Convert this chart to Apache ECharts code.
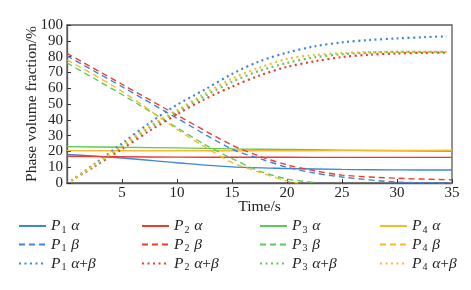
<!DOCTYPE html>
<html>
<head>
<meta charset="utf-8">
<script src="https://cdn.jsdelivr.net/npm/echarts@6/dist/echarts.min.js"></script>
<style>
  html, body { margin: 0; padding: 0; background: #fff; }
  #chart { width: 471px; height: 290px; }
</style>
</head>
<body>
<div id="chart"></div>
<script>
// time axis (s) and phase fractions (%)
const tAlpha = [0, 5, 10, 15, 20, 25, 30, 35]
const p1Alpha = [18, 15.8, 12.8, 10.2, 9.2, 8.6, 8.3, 8.2]
const p2Alpha = [16.9, 16.6, 16.4, 16.3, 16.3, 16.2, 16.2, 16.2]
const p3Alpha = [23, 22.6, 22.2, 21.6, 21.2, 20.8, 20.4, 20.0]
const p4Alpha = [20.5, 20.4, 20.4, 20.4, 20.4, 20.5, 20.6, 20.7]

const tBeta12 = [0, 5, 10, 15, 17.5, 20, 22.5, 25, 30, 35]
const p1Beta = [80.4, 61, 41, 21.5, 15.5, 10, 6.3, 3.8, 0.6, 0]
const p2Beta = [82, 62.5, 43, 24, 17, 11.5, 7.8, 5, 3, 2]
const tBeta3 = [0, 5, 10, 12.5, 15, 17.5, 20, 21, 22.5]
const p3Beta = [76, 56, 35, 24.5, 15.5, 7.5, 2.5, 1.5, 0.3]
const tBeta4 = [0, 5, 10, 12.5, 15, 17.5, 20, 21]
const p4Beta = [78, 58, 34, 23, 13, 6.8, 1.2, 0]

const tSum = [0.4, 2.5, 5, 7.5, 10, 12.5, 15, 17.5, 20, 22.5, 25, 27.5, 30, 32.5, 34.5]
const p1Sum = [1.5, 12, 25, 38, 49.5, 59, 69, 77, 82.5, 86.5, 89, 90.5, 91.5, 92.3, 92.8]
const p2Sum = [1.5, 10.5, 21.5, 33, 43.5, 53, 61, 68, 73.5, 77, 79.7, 81.2, 82, 82.4, 82.5]
const p3Sum = [1.5, 11, 23, 35, 45, 55, 64, 71, 76, 79.5, 81.5, 82.5, 83, 83, 83]
const p4Sum = [1.5, 11.5, 23.5, 36, 46, 56.5, 66, 73, 78.5, 81, 82.2, 82.8, 83, 83, 83]

const xTicks = [0, 5, 10, 15, 20, 25, 30, 35]
const yTicks = [0, 10, 20, 30, 40, 50, 60, 70, 80, 90, 100]

const colors = ['#3f86d6', '#ee3b2f', '#5ec95a', '#f6bb2c']
const serif = '"Liberation Serif", "Times New Roman", serif'

const pairs = (xs, ys) => xs.map((x, i) => [x, ys[i]])

// rows of the legend: α, β, α+β
const rows = [
  { suffix: 'α', type: 'solid', width: 1.4, sets: [[tAlpha, p1Alpha], [tAlpha, p2Alpha], [tAlpha, p3Alpha], [tAlpha, p4Alpha]] },
  { suffix: 'β', type: [6, 4], width: 1.4, sets: [[tBeta12, p1Beta], [tBeta12, p2Beta], [tBeta3, p3Beta], [tBeta4, p4Beta]] },
  { suffix: 'α+β', type: [2, 3.5], width: 2.2, sets: [[tSum, p1Sum], [tSum, p2Sum], [tSum, p3Sum], [tSum, p4Sum]] }
]

const series = []
const legends = []
const colLeft = [18, 141, 259, 379]
const rowTop = [218, 236.5, 255.5]

rows.forEach((row, r) => {
  row.sets.forEach(([xs, ys], c) => {
    const name = 'P' + (c + 1) + ' ' + row.suffix
    series.push({
      name,
      type: 'line',
      smooth: 0.3,
      symbol: 'none',
      color: colors[c],
      lineStyle: { color: colors[c], width: row.width, type: row.type, cap: 'butt' },
      data: pairs(xs, ys)
    })
    legends.push({
      data: [name],
      left: colLeft[c],
      top: rowTop[r],
      padding: 0,
      itemWidth: 27,
      itemHeight: 14,
      itemStyle: { opacity: 0 },
      lineStyle: { opacity: 1 },
      formatter: n => {
        const num = n.charAt(1)
        const rest = n.slice(3).split('+')
        const tail = rest.length > 1 ? `{g|${rest[0]}}{n|+}{g|${rest[1]}}` : `{g|${rest[0]}}`
        return `{p|P}{s|${num}} ${tail}`
      },
      textStyle: {
        fontFamily: serif,
        fontSize: 15,
        color: '#222',
        rich: {
          p: { fontFamily: serif, fontStyle: 'italic', fontSize: 15.5, color: '#222' },
          s: { fontFamily: serif, fontSize: 10, color: '#222', padding: [8, 1, 0, 1] },
          g: { fontFamily: serif, fontStyle: 'italic', fontSize: 15.5, color: '#222' },
          n: { fontFamily: serif, fontSize: 15.5, color: '#222' }
        }
      }
    })
  })
})

const chart = echarts.init(document.getElementById('chart'))

chart.setOption({
  animation: false,
  textStyle: { fontFamily: serif },
  grid: {
    left: 67, right: 19, top: 25, bottom: 107,
    show: true, borderColor: '#5a5a5a', borderWidth: 1.3
  },
  legend: legends,
  xAxis: {
    type: 'value',
    min: xTicks[0],
    max: xTicks[xTicks.length - 1],
    interval: 5,
    name: 'Time/s',
    nameLocation: 'middle',
    nameGap: 16,
    nameMoveOverlap: false,
    nameTextStyle: { fontFamily: serif, fontSize: 15.5, color: '#222' },
    axisLine: { lineStyle: { color: '#5a5a5a', width: 1.3 } },
    axisTick: { inside: true, length: 4, lineStyle: { color: '#333' } },
    axisLabel: { showMinLabel: false, margin: 3, fontFamily: serif, fontSize: 15, color: '#222' },
    splitLine: { show: false }
  },
  yAxis: {
    type: 'value',
    min: yTicks[0],
    max: yTicks[yTicks.length - 1],
    interval: 10,
    name: 'Phase volume fraction/%',
    nameLocation: 'middle',
    nameGap: 27,
    nameMoveOverlap: false,
    nameTextStyle: { fontFamily: serif, fontSize: 15.5, color: '#222' },
    axisLine: { lineStyle: { color: '#5a5a5a', width: 1.3 } },
    axisTick: { inside: true, length: 4, lineStyle: { color: '#333' } },
    axisLabel: { margin: 4, fontFamily: serif, fontSize: 15, color: '#222' },
    splitLine: { show: false }
  },
  series
})

window.addEventListener('resize', () => chart.resize())
</script>
</body>
</html>
